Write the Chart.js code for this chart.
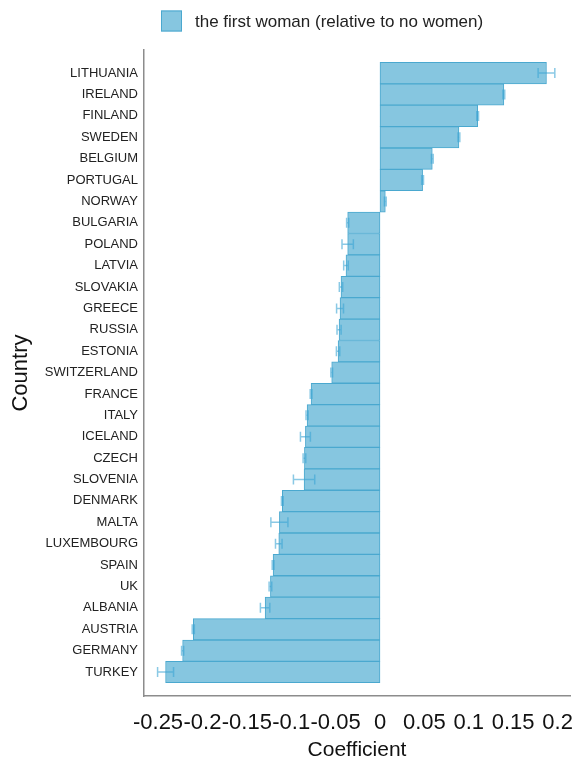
<!DOCTYPE html>
<html>
<head>
<meta charset="utf-8">
<title>Coefficient by country</title>
<script src="https://cdn.jsdelivr.net/npm/chart.js@4.4.1/dist/chart.umd.min.js"></script>
<style>
  html, body { margin: 0; padding: 0; background: #ffffff; }
  #wrap { position: relative; width: 574px; height: 763px; }
</style>
</head>
<body>
<div id="wrap"><canvas id="chart" width="574" height="763"></canvas></div>
<script>
// Countries, top to bottom
const countries = [
  'LITHUANIA', 'IRELAND', 'FINLAND', 'SWEDEN', 'BELGIUM', 'PORTUGAL', 'NORWAY',
  'BULGARIA', 'POLAND', 'LATVIA', 'SLOVAKIA', 'GREECE', 'RUSSIA', 'ESTONIA',
  'SWITZERLAND', 'FRANCE', 'ITALY', 'ICELAND', 'CZECH', 'SLOVENIA', 'DENMARK',
  'MALTA', 'LUXEMBOURG', 'SPAIN', 'UK', 'ALBANIA', 'AUSTRIA', 'GERMANY', 'TURKEY'
];

// Estimated coefficient: the first woman (relative to no women)
const coefficients = [
  0.1875, 0.1395, 0.110, 0.0889, 0.0589, 0.048, 0.006,
  -0.0364, -0.0364, -0.0383, -0.0439, -0.045, -0.0461, -0.0472,
  -0.0544, -0.0776, -0.0821, -0.0840, -0.0851, -0.0855, -0.110,
  -0.1133, -0.114, -0.1204, -0.1234, -0.1294, -0.2103, -0.2223, -0.2415
];

// Half-width of each error bar
const errors = [
  0.0094, 0.001, 0.001, 0.001, 0.001, 0.001, 0.001,
  0.0012, 0.0064, 0.0026, 0.0019, 0.0039, 0.0023, 0.0019,
  0.001, 0.001, 0.0012, 0.0056, 0.0015, 0.012, 0.001,
  0.0096, 0.0037, 0.001, 0.0015, 0.0053, 0.0012, 0.0012, 0.009
];

// Coefficient axis ticks
const coefTicks = [-0.25, -0.2, -0.15, -0.1, -0.05, 0, 0.05, 0.1, 0.15, 0.2];

const seriesLabel = 'the first woman (relative to no women)';
const FONT = '"Liberation Sans", Arial, sans-serif';
const BAR_FILL = '#86c6e0';
const BAR_EDGE = '#4aa8cf';

// Horizontal error bars with end caps
const errorBars = {
  id: 'errorBars',
  afterDatasetsDraw(chart) {
    const meta = chart.getDatasetMeta(0);
    const xs = chart.scales.x;
    const ctx = chart.ctx;
    ctx.save();
    ctx.strokeStyle = 'rgba(60, 165, 212, 0.6)';
    ctx.lineWidth = 1.5;
    meta.data.forEach((bar, i) => {
      const v = coefficients[i];
      const e = errors[i];
      const x0 = xs.getPixelForValue(v - e);
      const x1 = xs.getPixelForValue(v + e);
      const y = bar.y;
      const cap = 5;
      ctx.beginPath();
      ctx.moveTo(x0, y);
      ctx.lineTo(x1, y);
      ctx.moveTo(x0, y - cap);
      ctx.lineTo(x0, y + cap);
      ctx.moveTo(x1, y - cap);
      ctx.lineTo(x1, y + cap);
      ctx.stroke();
    });
    ctx.restore();
  }
};

// Legend swatch and text above the plot
const legendBox = {
  id: 'legendBox',
  afterDraw(chart) {
    const ctx = chart.ctx;
    const ds = chart.data.datasets[0];
    ctx.save();
    ctx.fillStyle = ds.backgroundColor;
    ctx.fillRect(161, 10.5, 21, 21);
    ctx.strokeStyle = ds.borderColor;
    ctx.lineWidth = 1;
    ctx.strokeRect(161.5, 11, 20, 20);
    ctx.fillStyle = '#222';
    ctx.font = '17px ' + FONT;
    ctx.textBaseline = 'alphabetic';
    ctx.textAlign = 'left';
    ctx.fillText(ds.label, 195, 27);
    ctx.restore();
  }
};

new Chart(document.getElementById('chart'), {
  type: 'bar',
  data: {
    datasets: [{
      label: seriesLabel,
      data: countries.map((c, i) => ({ x: coefficients[i], y: i })),
      backgroundColor: BAR_FILL,
      borderColor: BAR_EDGE,
      borderWidth: 1,
      borderSkipped: false,
      barPercentage: 1,
      categoryPercentage: 1
    }]
  },
  options: {
    indexAxis: 'y',
    responsive: false,
    animation: false,
    events: [],
    layout: { padding: { top: 50, right: 4, bottom: 0, left: 0 } },
    plugins: {
      legend: { display: false },
      tooltip: { enabled: false }
    },
    scales: {
      x: {
        type: 'linear',
        position: 'bottom',
        min: -0.2658,
        max: 0.2140,
        afterBuildTicks(scale) { scale.ticks = coefTicks.map(v => ({ value: v })); },
        afterFit(scale) {
          scale.height = 67;
          scale.paddingLeft = 0;
          scale.paddingRight = 0;
        },
        grid: { display: false, drawTicks: false },
        border: { display: true, color: '#8c8c8c', width: 1.5 },
        ticks: {
          autoSkip: false,
          maxRotation: 0,
          minRotation: 0,
          padding: 14,
          color: '#111',
          font: { family: FONT, size: 22 },
          callback: v => String(v)
        },
        title: {
          display: true,
          text: 'Coefficient',
          color: '#111',
          font: { family: FONT, size: 21 },
          padding: { top: 0, bottom: 0 }
        }
      },
      y: {
        type: 'linear',
        position: 'left',
        reverse: true,
        offset: false,
        min: -1.08,
        max: 29.12,
        afterBuildTicks(scale) { scale.ticks = countries.map((c, i) => ({ value: i })); },
        afterFit(scale) {
          scale.width = 144;
          scale.paddingTop = 0;
          scale.paddingBottom = 0;
        },
        grid: { display: false, drawTicks: false, offset: false },
        border: { display: true, color: '#8c8c8c', width: 1.5 },
        ticks: {
          autoSkip: false,
          padding: 6,
          color: '#222',
          font: { family: FONT, size: 13 },
          callback: v => countries[v] ?? ''
        },
        title: {
          display: true,
          text: 'Country',
          color: '#111',
          font: { family: FONT, size: 22 },
          padding: { top: 8, bottom: 0 }
        }
      }
    }
  },
  plugins: [errorBars, legendBox]
});
</script>
</body>
</html>
